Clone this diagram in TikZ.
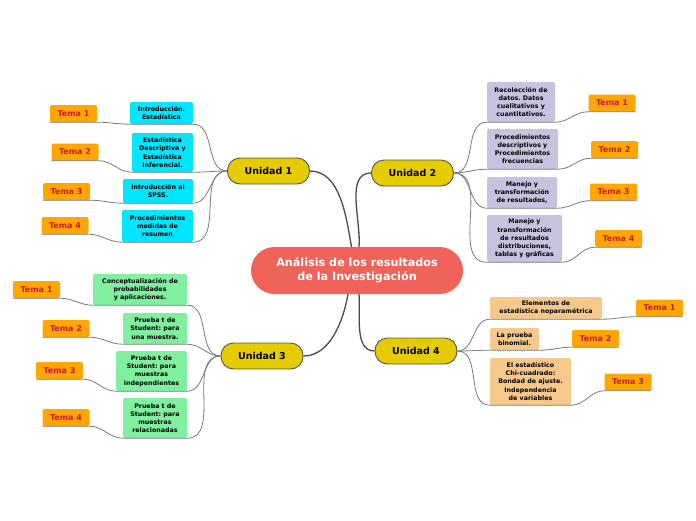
\documentclass[tikz,border=0pt]{standalone}
\usepackage{fontspec}
\setmainfont{DejaVu Sans}
\frenchspacing
\usetikzlibrary{calc}
\definecolor{cbg}{HTML}{F0635A}
\definecolor{uyel}{HTML}{E5CC00}
\definecolor{uedge}{HTML}{55554A}
\definecolor{tor}{HTML}{FFA600}
\definecolor{ttx}{HTML}{CC1A3C}
\definecolor{ccy}{HTML}{00E6FF}
\definecolor{clav}{HTML}{C6C2E0}
\definecolor{cgrn}{HTML}{80F0A0}
\definecolor{cpch}{HTML}{F6C88C}
\definecolor{lgray}{HTML}{7A7A7A}
\definecolor{dgray}{HTML}{4A4A4A}
\tikzset{
  central/.style={fill=cbg, rounded corners=23.5pt, minimum width=212pt, minimum height=47pt, inner sep=0pt, text=white, font=\fontsize{11.2}{14}\selectfont\bfseries, align=center},
  unit/.style={fill=uyel, draw=uedge, line width=0.9pt, rounded corners=12.5pt, minimum width=82pt, minimum height=26pt, inner sep=0pt, font=\fontsize{9.5}{11}\selectfont\bfseries},
  tema/.style={fill=tor, rounded corners=2pt, minimum width=47pt, minimum height=17pt, inner sep=0pt, text=ttx, font=\fontsize{8}{10}\selectfont\bfseries},
  child/.style={rounded corners=2pt, inner sep=0pt, align=center, font=\fontsize{6.3}{8.2}\selectfont\bfseries},
  conn/.style={draw=lgray, line width=0.8pt},
  mainconn/.style={draw=dgray, line width=1.3pt},
}
\begin{document}
\begin{tikzpicture}[x=1pt,y=-1pt]
\useasboundingbox (0,0) rectangle (696,520);
\fill[white] (0,0) rectangle (696,520);

% central and units
\node[central] (c) at (357,270.5) {Análisis de los resultados\\de la Investigación};
\node[unit] (u1) at (268.5,171) {Unidad 1};
\node[unit] (u2) at (412.5,173) {Unidad 2};
\node[unit] (u3) at (262,356) {Unidad 3};
\node[unit] (u4) at (416,351) {Unidad 4};

\coordinate (ca1) at ($(c.north)+(-5.5,0)$);
\coordinate (ca2) at ($(c.north)+(2,0)$);
\coordinate (cb3) at ($(c.south)+(-9,0)$);
\coordinate (cb4) at ($(c.south)+(2,0)$);

% Unit 1 children
\node[child, fill=ccy, minimum width=63pt, minimum height=22pt] (c11) at (161.5,113) {Introducción.\\Estadística};
\node[child, fill=ccy, minimum width=61pt, minimum height=39pt] (c12) at (162.5,152.5) {Estadística\\Descriptiva y\\Estadística\\Inferencial.};
\node[child, fill=ccy, minimum width=70pt, minimum height=24pt] (c13) at (158,191) {Introducción al\\SPSS.};
\node[child, fill=ccy, minimum width=71pt, minimum height=32pt] (c14) at (157.5,226) {Procedimientos\\medidas de\\resumen};
\node[tema] (t11) at (73.5,113.5) {Tema 1};
\node[tema] (t12) at (75,152) {Tema 2};
\node[tema] (t13) at (66.5,191.5) {Tema 3};
\node[tema] (t14) at (65,225.5) {Tema 4};

% Unit 2 children
\node[child, fill=clav, minimum width=68pt, minimum height=40pt] (c21) at (521,102) {Recolección de\\datos. Datos\\cualitativos y\\cuantitativos.};
\node[child, fill=clav, minimum width=71pt, minimum height=40pt] (c22) at (522.5,149) {Procedimientos\\descriptivos y\\Procedimientos\\frecuencias};
\node[child, fill=clav, minimum width=70pt, minimum height=31pt] (c23) at (522,192.5) {Manejo y\\transformación\\de resultados,};
\node[child, fill=clav, minimum width=75pt, minimum height=47pt] (c24) at (524.5,238.5) {Manejo y\\transformación\\de resultados\\distribuciones,\\tablas y gráficas};
\node[tema] (t21) at (612,103) {Tema 1};
\node[tema] (t22) at (614.5,149.5) {Tema 2};
\node[tema] (t23) at (613.5,192) {Tema 3};
\node[tema] (t24) at (618.5,238.5) {Tema 4};

% Unit 3 children
\node[child, fill=cgrn, minimum width=94pt, minimum height=31pt] (c31) at (140,289.5) {Conceptualización de\\probabilidades\\y aplicaciones.};
\node[child, fill=cgrn, minimum width=64pt, minimum height=31pt] (c32) at (155,328.5) {Prueba t de\\Student: para\\una muestra.};
\node[child, fill=cgrn, minimum width=71pt, minimum height=40pt] (c33) at (151.5,371) {Prueba t de\\Student: para\\muestras\\independientes};
\node[child, fill=cgrn, minimum width=64pt, minimum height=40pt] (c34) at (155,418) {Prueba t de\\Student: para\\muestras\\relacionadas};
\node[tema] (t31) at (36.5,289.5) {Tema 1};
\node[tema] (t32) at (66,328.5) {Tema 2};
\node[tema] (t33) at (59.5,370.5) {Tema 3};
\node[tema] (t34) at (66,417.5) {Tema 4};

% Unit 4 children
\node[child, fill=cpch, minimum width=112pt, minimum height=22pt] (c41) at (546,308) {Elementos de\\estadística noparamétrica};
\node[child, fill=cpch, minimum width=49pt, minimum height=22pt] (c42) at (514.5,339) {La prueba\\binomial.};
\node[child, fill=cpch, minimum width=81pt, minimum height=47pt] (c43) at (530.5,381.5) {El estadístico\\Chi-cuadrado:\\Bondad de ajuste.\\Independencia\\de variables};
\node[tema] (t41) at (659.5,308) {Tema 1};
\node[tema] (t42) at (595.5,338.5) {Tema 2};
\node[tema] (t43) at (628,382) {Tema 3};

% main connectors
\draw[mainconn] (u1.east) to[out=0,in=100,looseness=0.9] (ca1);
\draw[mainconn] (u2.west) to[out=180,in=85,looseness=0.9] (ca2);
\draw[mainconn] (u3.east) to[out=0,in=-100,looseness=0.9] (cb3);
\draw[mainconn] (u4.west) to[out=180,in=-85,looseness=0.9] (cb4);

% left side connectors
\foreach \u/\i in {u1/1,u3/3}{
  \foreach \j in {1,2,3,4}{
    \draw[conn] (\u.west) to[out=180,in=0] (c\i\j.south east) -- (c\i\j.south west) to[out=180,in=0] (t\i\j.south east) -- (t\i\j.south west);
  }
}
% right side connectors
\foreach \j in {1,2,3,4}{
  \draw[conn] (u2.east) to[out=0,in=180] (c2\j.south west) -- (c2\j.south east) to[out=0,in=180] (t2\j.south west) -- (t2\j.south east);
}
\foreach \j in {1,2,3}{
  \draw[conn] (u4.east) to[out=0,in=180] (c4\j.south west) -- (c4\j.south east) to[out=0,in=180] (t4\j.south west) -- (t4\j.south east);
}
\end{tikzpicture}
\end{document}
